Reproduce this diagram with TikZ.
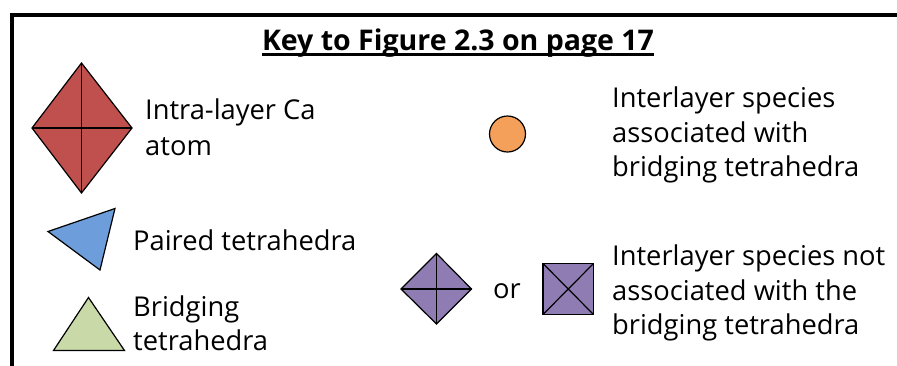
\documentclass[tikz,border=0pt]{standalone}
\usepackage{fontspec}
\setmainfont{Open Sans}
\begin{document}
\begin{tikzpicture}[x=1pt,y=-1pt,
  lbl/.style={anchor=base west,inner sep=0pt,font=\fontsize{27.3}{32}\selectfont},
  shp/.style={draw=black,line width=1.2pt,line join=miter},
  frame/.style={draw=black,line width=3.5pt}]
\useasboundingbox (0,0) rectangle (897,365);
\definecolor{cared}{HTML}{C0504D}
\definecolor{pblue}{HTML}{6D9EDB}
\definecolor{bgreen}{HTML}{C9DAA8}
\definecolor{iorange}{HTML}{F5A05A}
\definecolor{ipurple}{HTML}{8E7CB3}
% frame
\draw[frame] (12,380) -- (12,15) -- (910,15);
% title
\node[anchor=base,inner sep=0pt,font=\fontsize{28.5}{32}\selectfont\bfseries] (title) at (458,50) {Key to Figure 2.3 on page 17};
\draw[line width=2.2pt] ([yshift=-4.5pt]title.base west) -- ([yshift=-4.5pt]title.base east);
% red diamond
\draw[shp,fill=cared] (81.5,63) -- (132,128) -- (81.5,193) -- (32,128) -- cycle;
\draw[shp] (81.5,63) -- (81.5,193) (32,128) -- (132,128);
\node[lbl] (ca1) at (145,119) {Intra-layer Ca};
\node[lbl] (ca2) at (145,155) {atom};
% blue triangle
\draw[shp,fill=pblue] (48,231.5) -- (115,208.5) -- (100,270) -- cycle;
\node[lbl] (paired) at (133,250) {Paired tetrahedra};
% green triangle
\draw[shp,fill=bgreen] (53.5,350.5) -- (124.5,350.5) -- (88.5,297.5) -- cycle;
\node[lbl] (br1) at (133,316.5) {Bridging};
\node[lbl] (br2) at (133,350) {tetrahedra};
% orange circle
\node[circle,draw=black,line width=1.2pt,fill=iorange,minimum size=36pt,inner sep=0pt] (orange) at (507.5,134) {};
\node[lbl] (ia1) at (612,107.5) {Interlayer species};
\node[lbl] (ia2) at (612,142.5) {associated with};
\node[lbl] (ia3) at (612,176.5) {bridging tetrahedra};
% purple diamond
\draw[shp,fill=ipurple] (436.5,253.5) -- (471.5,289) -- (436.5,324) -- (401,289) -- cycle;
\draw[shp] (436.5,253.5) -- (436.5,324) (401,289) -- (471.5,289);
\node[lbl] (or) at (493,298) {or};
% purple square
\draw[shp,fill=ipurple] (543,263.5) rectangle (593.5,314.5);
\draw[shp] (543,263.5) -- (593.5,314.5) (543,314.5) -- (593.5,263.5);
\node[lbl] (in1) at (612,265) {Interlayer species not};
\node[lbl] (in2) at (612,300) {associated with the};
\node[lbl] (in3) at (612,334) {bridging tetrahedra};
\end{tikzpicture}
\end{document}
